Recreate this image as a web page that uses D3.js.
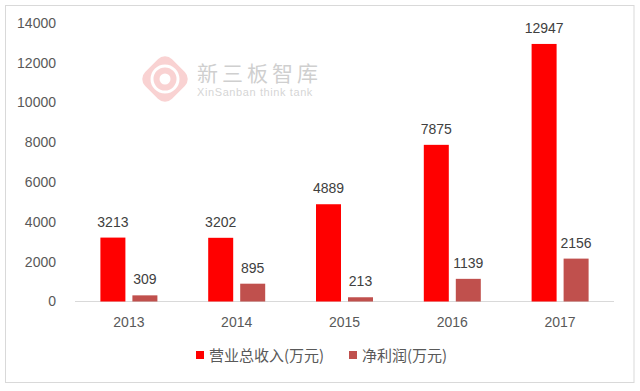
<!DOCTYPE html>
<html><head><meta charset="utf-8">
<script src="https://cdn.jsdelivr.net/npm/d3@7"></script>
<style>body{margin:0;background:#fff}svg{display:block;font-family:"Liberation Sans",Arial,sans-serif}</style>
</head><body><svg id="c" width="640" height="391"></svg>
<script>
const categories = ["2013","2014","2015","2016","2017"];
const revenue = [3213,3202,4889,7875,12947];
const profit = [309,895,213,1139,2156];
const seriesNames = ["营业总收入(万元)","净利润(万元)"];
const colors = ["#FF0000","#C0504D"];
const yTicks = [0,2000,4000,6000,8000,10000,12000,14000];

const svg = d3.select("#c");
svg.append("rect").attr("x",5.5).attr("y",5.5).attr("width",628.5).attr("height",377).attr("fill","#fff").attr("stroke","#d9d9d9");

const m = {l:75, r:614, t:23, b:301.5};
const x = d3.scaleBand().domain(categories).range([m.l,m.r]);
const y = d3.scaleLinear().domain([0,14000]).range([m.b,m.t]);

// watermark
const wm = svg.append("g").attr("opacity",0.35);
wm.append("rect").attr("x",-19).attr("y",-19).attr("width",38).attr("height",38).attr("rx",10)
  .attr("transform","translate(165,79) rotate(45)").attr("fill","#f08080");
wm.append("circle").attr("cx",165).attr("cy",79).attr("r",13).attr("fill","none").attr("stroke","#fff").attr("stroke-width",3);
wm.append("circle").attr("cx",165).attr("cy",79).attr("r",5.5).attr("fill","#fff");
wm.append("text").attr("x",197).attr("y",81).attr("font-size",21).attr("font-family","Noto Sans CJK SC").attr("fill","#777").attr("letter-spacing",4).text("新三板智库");
wm.append("text").attr("x",197).attr("y",96).attr("font-size",11).attr("fill","#888").attr("letter-spacing",0.6).text("XinSanban think tank");

// axis line
svg.append("line").attr("x1",m.l).attr("x2",m.r).attr("y1",m.b).attr("y2",m.b).attr("stroke","#d9d9d9");

// y tick labels
svg.append("g").selectAll("text").data(yTicks).join("text")
  .attr("x",56).attr("y",d=>y(d)).attr("dy","0.35em").attr("text-anchor","end")
  .attr("font-size",14).attr("fill","#595959").text(d=>d);

// x labels
svg.append("g").selectAll("text").data(categories).join("text")
  .attr("x",d=>x(d)+x.bandwidth()/2).attr("y",327).attr("text-anchor","middle")
  .attr("font-size",14).attr("fill","#595959").text(d=>d);

const bw = 25, gap = 7;
const series = [revenue, profit];
series.forEach((vals,si)=>{
  const g = svg.append("g");
  const off = si===0 ? -(bw+gap/2) : gap/2;
  g.selectAll("rect").data(vals).join("rect")
    .attr("x",(d,i)=>x(categories[i])+x.bandwidth()/2+off)
    .attr("y",d=>y(d)).attr("width",bw).attr("height",d=>m.b-y(d))
    .attr("fill",colors[si]);
  g.selectAll("text").data(vals).join("text")
    .attr("x",(d,i)=>x(categories[i])+x.bandwidth()/2+off+bw/2)
    .attr("y",d=>y(d)-11).attr("text-anchor","middle")
    .attr("font-size",14).attr("fill","#404040").text(d=>d);
});

// legend
const leg = [{x:196,tx:209},{x:349,tx:362}];
leg.forEach((l,i)=>{
  svg.append("rect").attr("x",l.x).attr("y",351).attr("width",8).attr("height",8).attr("fill",colors[i]);
  svg.append("text").attr("x",l.tx).attr("y",361).attr("font-size",15).attr("font-family","Noto Sans CJK SC, sans-serif")
    .attr("fill","#595959").text(seriesNames[i]);
});
</script></body></html>
